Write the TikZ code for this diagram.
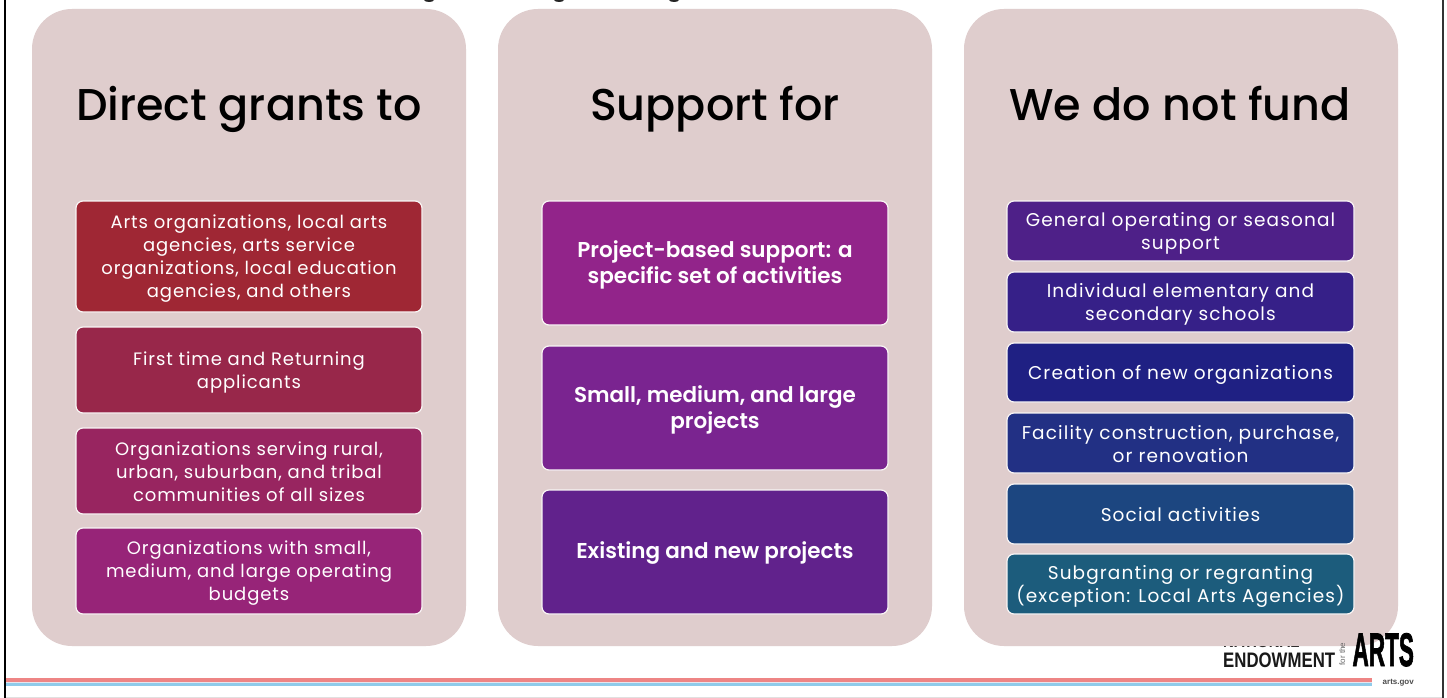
\documentclass[tikz,border=0pt]{standalone}
\usepackage{fontspec}
\setmainfont{Poppins}
\newfontfamily\headfont{Poppins Medium}
\newfontfamily\boldlabel{Poppins SemiBold}
\newfontfamily\logofont{Liberation Sans}
\newfontfamily\logoheavy[FakeBold=2]{Liberation Sans Bold}
\definecolor{panel}{HTML}{DFCDCD}
\definecolor{rulered}{HTML}{EE8585}
\definecolor{ruleblue}{HTML}{8FCBEA}
\definecolor{rulegap}{HTML}{E6E6EE}
\newcommand{\lstrut}{\rule[-3pt]{0pt}{17pt}}
\newcommand{\bstrut}{\rule[-4pt]{0pt}{19pt}}
\tikzset{
 x=1pt,y=-1pt,
 panelbox/.style={fill=panel,draw=none,rounded corners=40pt},
 itembox/.style={draw=white!80!panel,line width=1.2pt,rounded corners=7pt},
 head/.style={font=\fontsize{44.5}{48}\headfont\color{black},anchor=base,inner sep=0pt},
 lbl/.style={text=white,align=center,inner sep=0pt,yshift=-2pt,execute at begin node=\lstrut,execute at end node=\lstrut,font=\fontsize{18}{23}\selectfont\addfontfeature{LetterSpace=5}},
 lblc/.style={lbl,font=\fontsize{18.5}{23}\selectfont\addfontfeature{LetterSpace=6}},
 blbl/.style={text=white,align=center,inner sep=0pt,yshift=-1.5pt,execute at begin node=\bstrut,execute at end node=\bstrut,font=\fontsize{21.5}{26}\boldlabel},
 logotxt/.style={inner sep=0pt,text=black!90,font=\logofont},
}
\newcommand{\itm}[6]{\definecolor{tmpc}{HTML}{#5}%
 \path[itembox,fill=tmpc] (#1,#2) rectangle (#3,#4);\node[#6] at ({(#1+#3)/2},{(#2+#4)/2}) }
\begin{document}
\begin{tikzpicture}
\useasboundingbox (0,0) rectangle (1447,698);
\fill[white] (0,0) rectangle (1447,698);
\draw[black,line width=2.5pt] (5.2,0) -- (5.2,698);
\draw[black!80,line width=2pt] (1443,0) -- (1443,698);
\draw[black!12,line width=1pt] (6,697.5) -- (1442,697.5);
% cropped-title remnants
\fill[black!85] (429,0) ellipse (5 and 2);
\fill[black!85] (559,0) ellipse (5 and 2);
\fill[black!85] (674,0) ellipse (5 and 2);
% logo line mostly hidden by the panel
\node[logotxt,anchor=base west,font=\logofont\bfseries\fontsize{15}{15}\selectfont] (logon) at (1223,647) {NATIONAL};
\path[panelbox] (32,9) rectangle (466,646);
\path[panelbox] (498,9) rectangle (932,646);
\path[panelbox] (964,9) rectangle (1398,646);
\node[head] (h1) at (249,121) {Direct grants to};
\node[head] (h2) at (715,121) {Support for};
\node[head] (h3) at (1180,121) {We do not fund};
% col 1
\itm{76}{201}{422}{312}{9F2734}{lbl} (a1) {Arts organizations, local arts\\agencies, arts service\\organizations, local education\\agencies, and others};
\itm{76}{327}{422}{413}{98274A}{lbl} (a2) {First time and Returning\\applicants};
\itm{76}{428}{422}{514}{982560}{lbl} (a3) {Organizations serving rural,\\urban, suburban, and tribal\\communities of all sizes};
\itm{76}{528}{422}{614}{972478}{lbl} (a4) {Organizations with small,\\medium, and large operating\\budgets};
% col 2
\itm{542}{201}{888}{325}{92248A}{blbl} (b1) {Project-based support: a\\specific set of activities};
\itm{542}{346}{888}{470}{7A2490}{blbl} (b2) {Small, medium, and large\\projects};
\itm{542}{490}{888}{614}{61228C}{blbl} (b3) {Existing and new projects};
% col 3
\itm{1007}{201}{1354}{261}{4E2088}{lblc} (c1) {General operating or seasonal\\support};
\itm{1007}{272}{1354}{332}{362088}{lblc} (c2) {Individual elementary and\\secondary schools};
\itm{1007}{343}{1354}{402}{1F2083}{lblc} (c3) {Creation of new organizations};
\itm{1007}{413}{1354}{473}{223084}{lblc} (c4) {Facility construction, purchase,\\or renovation};
\itm{1007}{484}{1354}{544}{1C4680}{lblc} (c5) {Social activities};
\itm{1007}{554}{1354}{614}{1C5C7C}{lblc} (c6) {Subgranting or regranting\\(exception: Local Arts Agencies)};
% footer
\fill[rulered] (6,678) rectangle (1372,682);
\fill[rulegap] (6,682) rectangle (1372,683);
\fill[ruleblue] (6,683) rectangle (1372,686);
\node[logotxt,anchor=base west,xscale=0.8,font=\logofont\bfseries\fontsize{21}{21}\selectfont] (logoa) at (1223,667) {ENDOWMENT};
\node[logotxt,text=black!60,anchor=base,rotate=90,font=\logofont\fontsize{8}{8}\selectfont] (logof) at (1345,654) {for the};
\node[logotxt,text=black,anchor=base east,xscale=0.48,font=\logoheavy\fontsize{47}{47}\selectfont] (logob) at (1414,666) {ARTS};
\node[logotxt,text=black!70,anchor=base east,font=\logofont\bfseries\fontsize{8}{8}\selectfont] (logoc) at (1414,684) {arts.gov};
\end{tikzpicture}
\end{document}
